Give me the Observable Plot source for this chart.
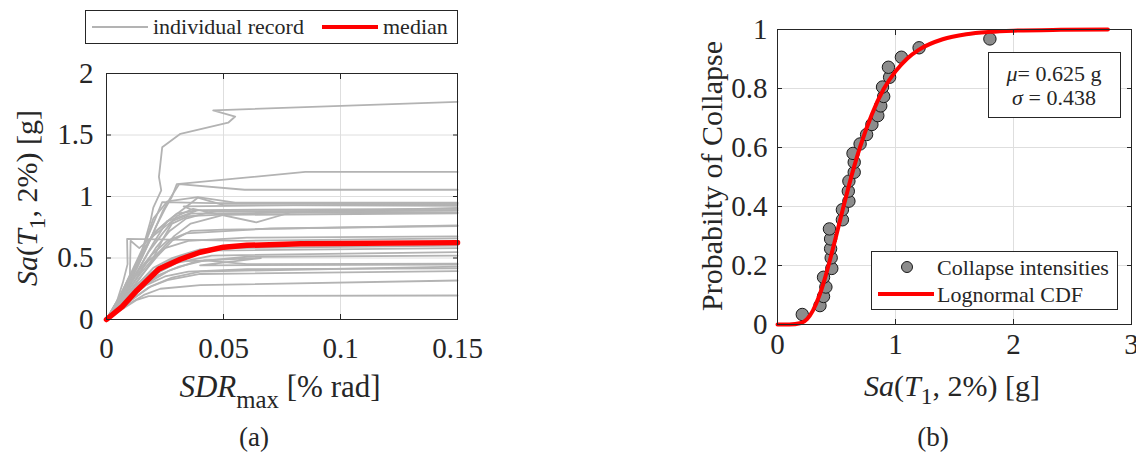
<!DOCTYPE html>
<html>
<head>
<meta charset="utf-8">
<script src="https://cdn.jsdelivr.net/npm/d3@7"></script>
<script src="https://cdn.jsdelivr.net/npm/@observablehq/plot@0.6"></script>
<style>
  html, body { margin: 0; padding: 0; background: #fff; }
  #wrap { position: relative; width: 1136px; height: 452px; overflow: hidden; background: #fff;
          font-family: "Liberation Serif", "Times New Roman", serif; color: #262626; }
  #wrap svg { position: absolute; left: 0; top: 0; }
  .lbl { position: absolute; white-space: nowrap; transform: translate(-50%, -50%); line-height: 1; }
  .rot { transform: translate(-50%, -50%) rotate(-90deg); }
  .sub { position: relative; top: 0.35em; font-size: 0.78em; }
  .box { position: absolute; background: #fff; border: 1px solid #262626; box-sizing: border-box; }
  .seg { position: absolute; }
  .txt { position: absolute; white-space: nowrap; transform: translateY(-50%); line-height: 1; font-size: 22px; }
</style>
</head>
<body>
<div id="wrap"></div>
<script>
// ---------- Panel (a): IDA curves ----------
const sdrTicks = [0, 0.05, 0.1, 0.15];
const saTicksA = [0, 0.5, 1, 1.5, 2];

const recordSdr = [
  [0,0.0046,0.0103,0.0145,0.0188,0.0200,0.0234,0.0224,0.0238,0.0316,0.052,0.055,0.0456,0.15],
  [0,0.006,0.012,0.017,0.021,0.025,0.028,0.030,0.085,0.15],
  [0,0.007,0.013,0.019,0.024,0.027,0.031,0.059,0.15],
  [0,0.006,0.011,0.016,0.020,0.0238,0.045,0.15],
  [0,0.008,0.014,0.020,0.026,0.033,0.039,0.050,0.15],
  [0,0.007,0.013,0.018,0.024,0.030,0.037,0.064,0.079,0.15],
  [0,0.008,0.015,0.021,0.027,0.034,0.045,0.15],
  [0,0.009,0.016,0.022,0.029,0.036,0.050,0.15],
  [0,0.007,0.013,0.017,0.020,0.026,0.039,0.055,0.15],
  [0,0.006,0.012,0.016,0.022,0.030,0.040,0.15],
  [0,0.008,0.014,0.020,0.024,0.028,0.035,0.070,0.15],
  [0,0.008,0.015,0.022,0.028,0.036,0.050,0.15],
  [0,0.006,0.012,0.018,0.025,0.035,0.060,0.15],
  [0,0.004,0.007,0.009,0.0088,0.060,0.15],
  [0,0.007,0.014,0.020,0.028,0.040,0.070,0.15],
  [0,0.008,0.015,0.022,0.030,0.045,0.15],
  [0,0.008,0.015,0.022,0.030,0.066,0.040,0.15],
  [0,0.009,0.017,0.025,0.035,0.060,0.15],
  [0,0.010,0.018,0.026,0.040,0.15],
  [0,0.009,0.016,0.023,0.040,0.15],
  [0,0.008,0.013,0.018,0.15],
  [0,0.009,0.016,0.024,0.032,0.050,0.15],
  [0,0.010,0.018,0.027,0.038,0.060,0.15],
  [0,0.010,0.019,0.028,0.040,0.15],
  [0,0.005,0.010,0.0103,0.014,0.020,0.028,0.036,0.15],
  [0,0.007,0.012,0.016,0.020,0.026,0.038,0.033,0.08,0.15],
  [0,0.008,0.015,0.022,0.031,0.042,0.060,0.15],
  [0,0.007,0.014,0.021,0.029,0.040,0.15],
  [0,0.006,0.012,0.019,0.026,0.034,0.070,0.15]
];
const recordSa = [
  [0,0.15,0.34,0.51,0.80,0.91,1.05,1.16,1.40,1.51,1.60,1.65,1.70,1.77],
  [0,0.18,0.38,0.58,0.75,0.90,1.00,1.10,1.20,1.20],
  [0,0.20,0.42,0.66,0.88,0.98,1.10,1.055,1.055],
  [0,0.20,0.40,0.60,0.78,0.955,0.946,0.946],
  [0,0.22,0.42,0.62,0.80,0.90,0.99,0.93,0.924],
  [0,0.18,0.38,0.55,0.70,0.84,0.90,0.79,0.872,0.908],
  [0,0.20,0.40,0.58,0.72,0.82,0.88,0.886],
  [0,0.20,0.38,0.54,0.68,0.78,0.85,0.864],
  [0,0.22,0.45,0.65,0.82,0.96,0.995,0.95,0.95],
  [0,0.20,0.42,0.58,0.73,0.86,0.89,0.90],
  [0,0.20,0.36,0.50,0.65,0.78,0.84,0.87,0.87],
  [0,0.18,0.36,0.52,0.64,0.72,0.73,0.765],
  [0,0.16,0.34,0.48,0.58,0.64,0.665,0.675],
  [0,0.12,0.30,0.45,0.656,0.64,0.66],
  [0,0.15,0.30,0.42,0.50,0.57,0.61,0.62],
  [0,0.15,0.28,0.38,0.46,0.52,0.547],
  [0,0.18,0.32,0.42,0.47,0.50,0.44,0.447],
  [0,0.16,0.28,0.35,0.39,0.41,0.415],
  [0,0.15,0.26,0.32,0.37,0.393],
  [0,0.12,0.20,0.25,0.28,0.317],
  [0,0.10,0.16,0.19,0.195],
  [0,0.18,0.32,0.44,0.52,0.58,0.60],
  [0,0.17,0.30,0.40,0.47,0.51,0.52],
  [0,0.15,0.27,0.34,0.39,0.43],
  [0,0.16,0.36,0.64,0.58,0.68,0.80,0.86,0.89],
  [0,0.22,0.40,0.56,0.70,0.80,0.88,0.92,0.93,0.935],
  [0,0.14,0.26,0.36,0.43,0.48,0.45,0.455],
  [0,0.16,0.30,0.41,0.50,0.56,0.58],
  [0,0.18,0.36,0.52,0.64,0.70,0.74,0.76]
];
const medianSdr = [0,0.0067,0.013,0.0188,0.0224,0.0316,0.040,0.050,0.060,0.083,0.15];
const medianSa  = [0,0.105,0.236,0.344,0.41,0.49,0.547,0.588,0.603,0.615,0.625];

// ---------- Panel (b): collapse fragility ----------
const saTicksB = [0, 1, 2, 3];
const probTicks = [0, 0.2, 0.4, 0.6, 0.8, 1];
const collapseSa = [0.21,0.36,0.39,0.41,0.39,0.46,0.455,0.45,0.45,0.44,0.55,0.55,0.605,0.60,0.605,
                    0.65,0.65,0.64,0.70,0.755,0.80,0.85,0.875,0.90,0.89,0.95,0.94,1.05,1.20,1.80];
const collapseProb = [0.034,0.064,0.095,0.127,0.16,0.19,0.226,0.257,0.29,0.324,0.355,0.389,0.418,0.452,0.486,
                      0.516,0.55,0.58,0.612,0.644,0.678,0.708,0.741,0.773,0.805,0.838,0.872,0.906,0.938,0.968];
const cdfSa   = [0,0.1,0.2,0.25,0.3,0.35,0.4,0.45,0.5,0.55,0.6,0.65,0.7,0.8,0.9,1.0,1.1,1.2,1.4,1.6,1.8,2.0,2.4,2.8];
const cdfProb = [0,0,0.005,0.018,0.047,0.093,0.154,0.227,0.305,0.385,0.463,0.536,0.602,0.713,0.798,0.858,0.902,0.932,0.967,0.984,0.992,0.996,0.999,1.0];

// ---------- build tables ----------
const records = recordSdr.flatMap((xs, i) => xs.map((x, j) => ({rec: i, sdr: x, sa: recordSa[i][j]})));
const median = medianSdr.map((x, i) => ({sdr: x, sa: medianSa[i]}));
const points = collapseSa.map((x, i) => ({sa: x, p: collapseProb[i]}));
const cdf = cdfSa.map((x, i) => ({sa: x, p: cdfProb[i]}));

const W = 1136, H = 452;
const INK = "#262626", GRID = "#dedede", GRAYLINE = "#b3b3b3", RED = "#ff0000";
const baseStyle = {fontFamily: '"Liberation Serif", "Times New Roman", serif', fontSize: "29px",
                   color: INK, background: "transparent", overflow: "visible"};
const fmt = d => String(d);
const blank = () => "";

const plotA = Plot.plot({
  width: W, height: H,
  marginLeft: 106, marginRight: W - 457, marginTop: 73, marginBottom: H - 319,
  x: {domain: [0, 0.15]}, y: {domain: [0, 2]},
  style: baseStyle,
  marks: [
    Plot.gridX([0.05, 0.1], {stroke: GRID, strokeOpacity: 1}),
    Plot.gridY([0.5, 1, 1.5], {stroke: GRID, strokeOpacity: 1}),
    Plot.line(records, {x: "sdr", y: "sa", z: "rec", stroke: GRAYLINE, strokeWidth: 1.8}),
    Plot.line(median, {x: "sdr", y: "sa", stroke: RED, strokeWidth: 5.5, strokeLinejoin: "round"}),
    Plot.frame({stroke: INK, strokeWidth: 1}),
    Plot.axisX(sdrTicks, {anchor: "bottom", tickSize: -5, tickPadding: 23, tickFormat: fmt, label: null, stroke: INK}),
    Plot.axisX(sdrTicks, {anchor: "top", tickSize: -5, tickFormat: blank, label: null, stroke: INK}),
    Plot.axisY(saTicksA, {anchor: "left", tickSize: -5, tickPadding: 18, tickFormat: fmt, label: null, stroke: INK}),
    Plot.axisY(saTicksA, {anchor: "right", tickSize: -5, tickFormat: blank, label: null, stroke: INK})
  ]
});

const plotB = Plot.plot({
  width: W, height: H,
  marginLeft: 777, marginRight: W - 1131, marginTop: 29, marginBottom: H - 324,
  x: {domain: [0, 3]}, y: {domain: [0, 1]},
  style: baseStyle,
  marks: [
    Plot.gridX([1, 2], {stroke: GRID, strokeOpacity: 1}),
    Plot.gridY([0.2, 0.4, 0.6, 0.8], {stroke: GRID, strokeOpacity: 1}),
    Plot.dot(points, {x: "sa", y: "p", r: 6.2, fill: "#8c8c8c", stroke: "#1a1a1a", strokeWidth: 1}),
    Plot.line(cdf, {x: "sa", y: "p", stroke: RED, strokeWidth: 4, curve: "monotone-x"}),
    Plot.frame({stroke: INK, strokeWidth: 1}),
    Plot.axisX(saTicksB, {anchor: "bottom", tickSize: -5, tickPadding: 14, tickFormat: fmt, label: null, stroke: INK}),
    Plot.axisX(saTicksB, {anchor: "top", tickSize: -5, tickFormat: blank, label: null, stroke: INK}),
    Plot.axisY(probTicks, {anchor: "left", tickSize: -5, tickPadding: 15, tickFormat: fmt, label: null, stroke: INK}),
    Plot.axisY(probTicks, {anchor: "right", tickSize: -5, tickFormat: blank, label: null, stroke: INK})
  ]
});

const wrap = document.getElementById("wrap");
wrap.appendChild(plotA);
wrap.appendChild(plotB);

function el(html, style, cls) {
  const d = document.createElement("div");
  if (cls) d.className = cls;
  d.innerHTML = html;
  Object.assign(d.style, style);
  wrap.appendChild(d);
  return d;
}

// axis labels
el('<i>Sa</i>(<i>T</i><span class="sub">1</span>, 2%) [g]', {left: "27px", top: "198px", fontSize: "30px"}, "lbl rot");
el('<i>SDR</i><span class="sub" style="font-size:0.8em;top:0.45em">max</span> [% rad]', {left: "280px", top: "386px", fontSize: "31px"}, "lbl");
el('Probabilty of Collapse', {left: "712px", top: "176px", fontSize: "30px"}, "lbl rot");
el('<i>Sa</i>(<i>T</i><span class="sub">1</span>, 2%) [g]', {left: "952px", top: "386px", fontSize: "30px"}, "lbl");
el('(a)', {left: "254px", top: "437px", fontSize: "27px"}, "lbl");
el('(b)', {left: "933px", top: "437px", fontSize: "27px"}, "lbl");

// legend (a)
el('', {left: "85px", top: "10px", width: "373px", height: "34px"}, "box");
el('', {left: "92px", top: "26px", width: "56px", height: "2px", background: GRAYLINE}, "seg");
el('individual record', {left: "153px", top: "27px"}, "txt");
el('', {left: "322px", top: "25px", width: "56px", height: "4px", background: RED}, "seg");
el('median', {left: "383px", top: "27px"}, "txt");

// legend (b)
el('', {left: "871px", top: "251px", width: "247px", height: "59px"}, "box");
el('', {left: "901px", top: "261px", width: "12px", height: "12px", borderRadius: "50%", background: "#8c8c8c",
        border: "1px solid #1a1a1a", boxSizing: "border-box"}, "seg");
el('Collapse intensities', {left: "937px", top: "268px"}, "txt");
el('', {left: "878px", top: "292px", width: "56px", height: "4px", background: RED}, "seg");
el('Lognormal CDF', {left: "937px", top: "295px"}, "txt");

// parameter box
el('', {left: "988px", top: "52px", width: "133px", height: "66px"}, "box");
el('<i>&mu;</i>= 0.625 g', {left: "1054px", top: "74px", fontSize: "22px"}, "lbl");
el('<i>&sigma;</i> = 0.438', {left: "1054px", top: "98px", fontSize: "22px"}, "lbl");
</script>
</body>
</html>
